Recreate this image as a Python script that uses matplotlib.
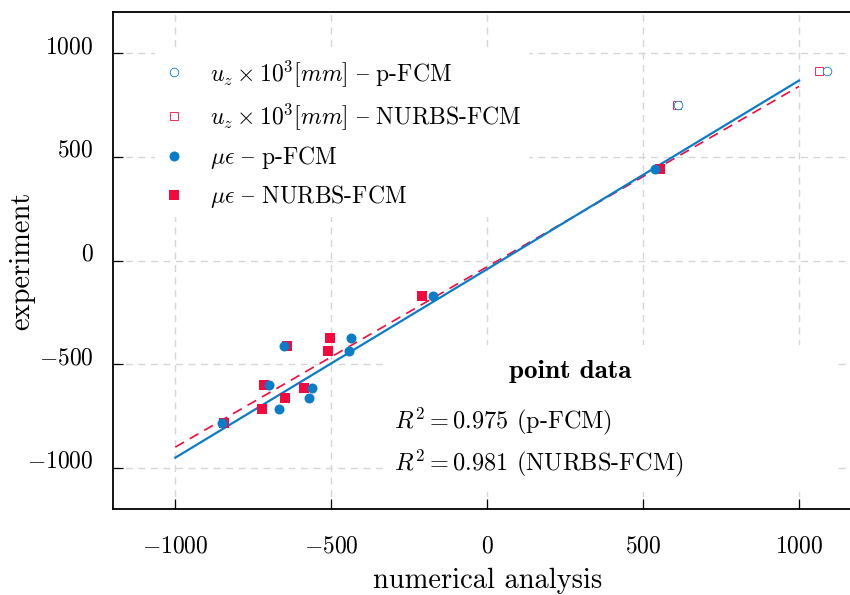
import matplotlib
matplotlib.use('Agg')
import matplotlib.pyplot as plt
from matplotlib.patches import Rectangle

# 实验值 (纵轴) 与数值结果 (横轴)
exp_strain = [-783, -602, -415, -719, -662, -614, -439, -373, -171, 444]
pfcm_strain = [-850, -699, -650, -667, -570, -562, -442, -437, -173, 538]
nurbs_strain = [-845, -715, -642, -722, -647, -587, -512, -503, -208, 554]

exp_disp = [753, 913]
pfcm_disp = [613, 1091]
nurbs_disp = [608, 1064]

# 拟合直线端点
fit_x = [-1000, 1000]
fit_pfcm = [-952, 869]
fit_nurbs = [-901, 841]

ticks = [-1000, -500, 0, 500, 1000]
r2_labels = [r'$R^2 = 0.975$ (p-FCM)', r'$R^2 = 0.981$ (NURBS-FCM)']

BLUE = '#0A7CC8'
RED = '#F40A3C'

plt.rcParams['font.family'] = ['cmr10', 'DejaVu Serif']
plt.rcParams['mathtext.fontset'] = 'cm'
plt.rcParams['axes.formatter.use_mathtext'] = True
plt.rcParams['axes.unicode_minus'] = True

fig = plt.figure(figsize=(8.5, 5.95), dpi=100)
ax = fig.add_axes([0.1329, 0.1445, 0.8805, 0.8353])

ax.plot(fit_x, fit_nurbs, color=RED, lw=1.2, ls=(0, (6, 4)), zorder=2)
ax.plot(fit_x, fit_pfcm, color=BLUE, lw=1.6, zorder=2)

h_ud_n, = ax.plot(nurbs_disp, exp_disp, ls='none', marker='s', ms=5.5,
                  mfc='white', mec=RED, mew=0.6, zorder=4)
h_ud_p, = ax.plot(pfcm_disp, exp_disp, ls='none', marker='o', ms=6.2,
                  mfc='white', mec=BLUE, mew=0.6, zorder=4)
h_st_n, = ax.plot(nurbs_strain, exp_strain, ls='none', marker='s', ms=6.5,
                  color=RED, mew=0, zorder=4)
h_st_p, = ax.plot(pfcm_strain, exp_strain, ls='none', marker='o', ms=7.2,
                  color=BLUE, mew=0, zorder=4)

ax.set_xlim(-1200, 1200)
ax.set_ylim(-1200, 1200)
ax.set_xticks(ticks)
ax.set_yticks(ticks)
ax.grid(True, color='#d6d6d6', ls=(0, (5, 4)), lw=1.0)
ax.set_axisbelow(True)
ax.tick_params(direction='in', length=7, width=0.9, labelsize=17,
               top=False, right=False)
ax.tick_params(axis='x', pad=19)
ax.tick_params(axis='y', pad=14)
plt.setp(ax.get_yticklabels(), va='baseline')
for sp in ax.spines.values():
    sp.set_linewidth(1.3)

ax.set_xlabel('numerical analysis', fontsize=20.5, labelpad=7)
ax.set_ylabel('experiment', fontsize=20.5)
ax.yaxis.set_label_coords(-0.104, 0.5)

# 文字框 (白底遮住网格)
ax.add_patch(Rectangle((0.366, 0.034), 0.601, 0.296, transform=ax.transAxes,
                       facecolor='white', edgecolor='none', zorder=3))
ax.text(0.611, 0.264, 'point data', transform=ax.transAxes, ha='center',
        va='baseline', fontsize=19.5, family='cmb10', zorder=5)
ax.text(0.375, 0.163, r2_labels[0], transform=ax.transAxes, ha='left',
        va='baseline', fontsize=17.5, zorder=5)
ax.text(0.375, 0.078, r2_labels[1], transform=ax.transAxes, ha='left',
        va='baseline', fontsize=17.5, zorder=5)

# cmr10 字体中 '{' 位置即为 en dash
labels = [r'$u_z \times 10^3 [mm]$ { p-FCM',
          r'$u_z \times 10^3 [mm]$ { NURBS-FCM',
          r'$\mu\epsilon$ { p-FCM',
          r'$\mu\epsilon$ { NURBS-FCM']
leg = ax.legend([h_ud_p, h_ud_n, h_st_p, h_st_n], labels, loc='upper left',
                bbox_to_anchor=(0.04, 0.946), fontsize=17, frameon=True,
                facecolor='white', edgecolor='none', framealpha=1,
                handlelength=1.0, handletextpad=1.05, labelspacing=0.52,
                borderpad=0.3, fancybox=False)

fig.savefig('out.png', dpi=100)
plt.close(fig)
